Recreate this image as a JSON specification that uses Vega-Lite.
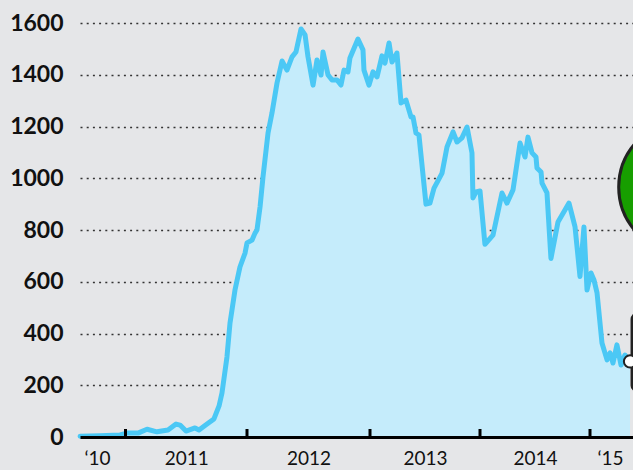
{
  "$schema": "https://vega.github.io/schema/vega-lite/v6.json",
  "width": 553,
  "height": 414,
  "autosize": {"type": "none"},
  "padding": {"left": 80, "top": 23, "right": 0, "bottom": 33},
  "background": "#e5e6e8",
  "config": {
    "view": {"stroke": null},
    "font": "Lato"
  },
  "datasets": {
    "series": [
      {"year": 2010.626, "value": 3}, {"year": 2010.79, "value": 5}, {"year": 2010.955, "value": 8},
      {"year": 2011.012, "value": 15}, {"year": 2011.103, "value": 15}, {"year": 2011.177, "value": 30},
      {"year": 2011.259, "value": 20}, {"year": 2011.35, "value": 27}, {"year": 2011.416, "value": 50},
      {"year": 2011.449, "value": 46}, {"year": 2011.498, "value": 23}, {"year": 2011.572, "value": 35},
      {"year": 2011.605, "value": 27}, {"year": 2011.671, "value": 50}, {"year": 2011.728, "value": 70},
      {"year": 2011.77, "value": 120}, {"year": 2011.794, "value": 170}, {"year": 2011.835, "value": 309},
      {"year": 2011.86, "value": 440}, {"year": 2011.901, "value": 568}, {"year": 2011.942, "value": 657},
      {"year": 2011.984, "value": 711}, {"year": 2012.0, "value": 750}, {"year": 2012.041, "value": 761},
      {"year": 2012.065, "value": 788}, {"year": 2012.081, "value": 800}, {"year": 2012.106, "value": 889},
      {"year": 2012.13, "value": 1005}, {"year": 2012.171, "value": 1175}, {"year": 2012.203, "value": 1252},
      {"year": 2012.244, "value": 1368}, {"year": 2012.285, "value": 1453}, {"year": 2012.325, "value": 1418},
      {"year": 2012.366, "value": 1469}, {"year": 2012.398, "value": 1488}, {"year": 2012.439, "value": 1577},
      {"year": 2012.472, "value": 1554}, {"year": 2012.496, "value": 1469}, {"year": 2012.537, "value": 1360},
      {"year": 2012.569, "value": 1457}, {"year": 2012.602, "value": 1399}, {"year": 2012.618, "value": 1488},
      {"year": 2012.659, "value": 1399}, {"year": 2012.691, "value": 1380}, {"year": 2012.732, "value": 1380},
      {"year": 2012.764, "value": 1360}, {"year": 2012.789, "value": 1418}, {"year": 2012.821, "value": 1411},
      {"year": 2012.837, "value": 1465}, {"year": 2012.902, "value": 1538}, {"year": 2012.943, "value": 1496},
      {"year": 2012.951, "value": 1418}, {"year": 2012.992, "value": 1360}, {"year": 2013.027, "value": 1411},
      {"year": 2013.064, "value": 1392}, {"year": 2013.109, "value": 1473}, {"year": 2013.136, "value": 1445},
      {"year": 2013.173, "value": 1523}, {"year": 2013.2, "value": 1449}, {"year": 2013.245, "value": 1484},
      {"year": 2013.282, "value": 1291}, {"year": 2013.327, "value": 1302}, {"year": 2013.373, "value": 1237},
      {"year": 2013.391, "value": 1237}, {"year": 2013.418, "value": 1175}, {"year": 2013.445, "value": 1167},
      {"year": 2013.509, "value": 900}, {"year": 2013.545, "value": 904}, {"year": 2013.582, "value": 962},
      {"year": 2013.655, "value": 1020}, {"year": 2013.7, "value": 1121}, {"year": 2013.755, "value": 1179},
      {"year": 2013.791, "value": 1140}, {"year": 2013.836, "value": 1156}, {"year": 2013.882, "value": 1198},
      {"year": 2013.927, "value": 1098}, {"year": 2013.936, "value": 924}, {"year": 2013.964, "value": 947},
      {"year": 2014.0, "value": 951}, {"year": 2014.045, "value": 745}, {"year": 2014.118, "value": 780},
      {"year": 2014.2, "value": 943}, {"year": 2014.245, "value": 904}, {"year": 2014.3, "value": 955},
      {"year": 2014.364, "value": 1136}, {"year": 2014.409, "value": 1082}, {"year": 2014.436, "value": 1159},
      {"year": 2014.473, "value": 1098}, {"year": 2014.509, "value": 1082}, {"year": 2014.518, "value": 1040},
      {"year": 2014.555, "value": 1024}, {"year": 2014.564, "value": 981}, {"year": 2014.609, "value": 943},
      {"year": 2014.645, "value": 690}, {"year": 2014.709, "value": 831}, {"year": 2014.809, "value": 904},
      {"year": 2014.864, "value": 812}, {"year": 2014.909, "value": 620}, {"year": 2014.945, "value": 812},
      {"year": 2014.973, "value": 568}, {"year": 2015.009, "value": 634}, {"year": 2015.036, "value": 607},
      {"year": 2015.064, "value": 557}, {"year": 2015.109, "value": 363}, {"year": 2015.155, "value": 298},
      {"year": 2015.182, "value": 325}, {"year": 2015.209, "value": 286}, {"year": 2015.245, "value": 356},
      {"year": 2015.282, "value": 278}, {"year": 2015.318, "value": 317}, {"year": 2015.364, "value": 292}
    ],
    "ticks": [{"year": 2011}, {"year": 2012}, {"year": 2013}, {"year": 2014}, {"year": 2015}],
    "box": [{"x1": 2015.38, "x2": 2015.8, "y1": 180, "y2": 475}],
    "circle": [{"year": 2015.864, "value": 966}],
    "dot": [{"year": 2015.364, "value": 292}]
  },
  "layer": [
    {
      "data": {"name": "series"},
      "mark": {
        "type": "area",
        "color": "#c5ecfb",
        "opacity": 1,
        "line": {"color": "#4bc8f5", "strokeWidth": 5, "strokeJoin": "round", "strokeCap": "round"}
      },
      "encoding": {
        "x": {
          "field": "year", "type": "quantitative",
          "scale": {"type": "linear", "domain": [2010.6255, 2011, 2012, 2013, 2014, 2015, 2015.391], "range": [0, 45.5, 167, 290, 400, 510, 553], "nice": false, "zero": false},
          "axis": {
            "title": null,
            "values": [2010.765, 2011.5, 2012.5, 2013.5, 2014.5, 2015.182],
            "labelExpr": "datum.value < 2011 ? '‘10' : (datum.value > 2015 ? '‘15' : '' + floor(datum.value))",
            "ticks": false,
            "grid": false,
            "domain": true,
            "domainColor": "#000000",
            "domainWidth": 3,
            "labelFont": "Lato",
            "labelFontSize": 19,
            "labelColor": "#111111",
            "labelPadding": 12,
            "labelBaseline": "top",
            "zindex": 1
          }
        },
        "y": {
          "field": "value", "type": "quantitative",
          "scale": {"domain": [0, 1600], "nice": false},
          "axis": {
            "title": null,
            "format": "d",
            "values": [0, 200, 400, 600, 800, 1000, 1200, 1400, 1600],
            "domain": false,
            "ticks": false,
            "grid": true,
            "gridColor": "#333333",
            "gridDash": [2, 4.2],
            "gridWidth": 1.5,
            "labelFont": "Lato",
            "labelFontSize": 23,
            "labelFontWeight": "bold",
            "labelColor": "#111111",
            "labelPadding": 17
          }
        }
      }
    },
    {
      "data": {"name": "ticks"},
      "mark": {"type": "rule", "color": "#000000", "strokeWidth": 3},
      "encoding": {
        "x": {"field": "year", "type": "quantitative"},
        "y": {"datum": 0},
        "y2": {"datum": 31}
      }
    },
    {
      "data": {"name": "box"},
      "mark": {"type": "rect", "clip": true, "fill": "#e5e6e8", "stroke": "#222222", "strokeWidth": 2.5, "cornerRadius": 5},
      "encoding": {
        "x": {"field": "x1", "type": "quantitative"},
        "x2": {"field": "x2"},
        "y": {"field": "y1", "type": "quantitative"},
        "y2": {"field": "y2"}
      }
    },
    {
      "data": {"name": "circle"},
      "mark": {"type": "point", "shape": "circle", "clip": true, "filled": true, "fill": "#179e00", "stroke": "#222222", "strokeWidth": 3, "size": 17600, "opacity": 1},
      "encoding": {
        "x": {"field": "year", "type": "quantitative"},
        "y": {"field": "value", "type": "quantitative"}
      }
    },
    {
      "data": {"name": "dot"},
      "mark": {"type": "point", "shape": "circle", "filled": true, "fill": "#ffffff", "stroke": "#222222", "strokeWidth": 2, "size": 150, "opacity": 1},
      "encoding": {
        "x": {"field": "year", "type": "quantitative"},
        "y": {"field": "value", "type": "quantitative"}
      }
    }
  ]
}
